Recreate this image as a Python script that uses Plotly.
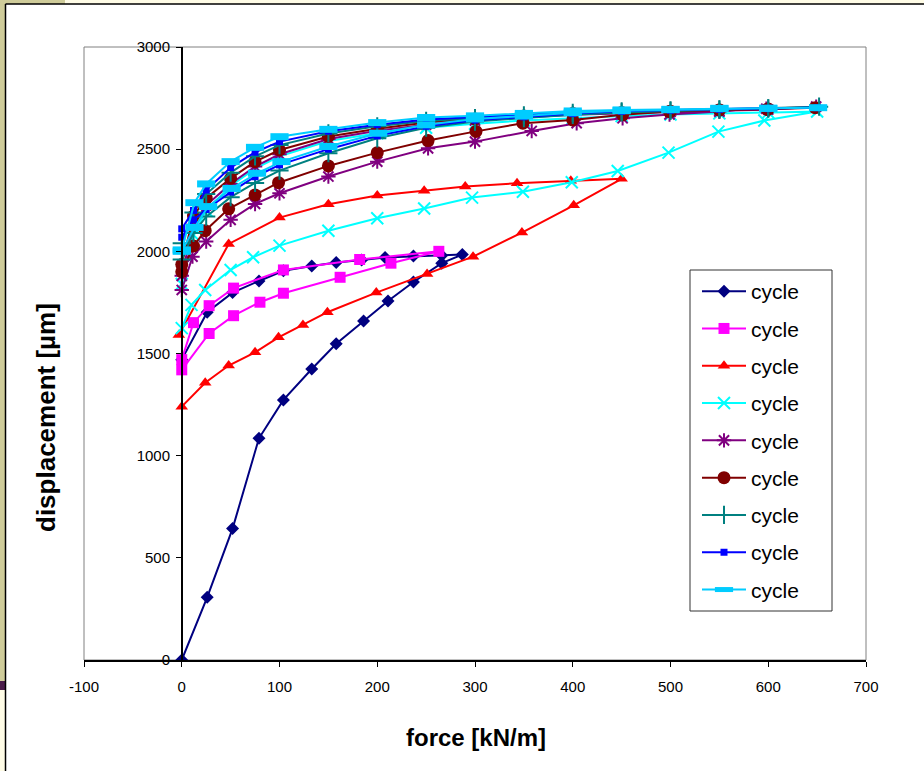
import plotly.graph_objects as go

# ---------------- data ----------------
c1_x = [0, 26, 52, 79, 104, 133, 158, 186, 211, 237, 266, 287, 266, 237, 208, 184, 158, 133, 104, 79, 52, 26, 0]
c1_y = [0, 307, 643, 1085, 1273, 1424, 1548, 1659, 1757, 1850, 1942, 1984, 1980, 1977, 1970, 1958, 1945, 1928, 1905, 1855, 1798, 1702, 1470]

c2_x = [0, 28, 53, 80, 104, 162, 214, 263, 182, 104, 53, 28, 12, 0]
c2_y = [1420, 1598, 1685, 1751, 1795, 1873, 1942, 2000, 1960, 1909, 1820, 1734, 1651, 1470]

c3_x = [0, 24, 48, 75, 99, 124, 149, 199, 251, 298, 348, 401, 450, 398, 343, 290, 248, 200, 150, 100, 48, -3]
c3_y = [1240, 1357, 1441, 1506, 1579, 1640, 1702, 1798, 1889, 1974, 2092, 2225, 2355, 2345, 2333, 2317, 2296, 2273, 2230, 2165, 2036, 1590]

c4_x = [0, 10, 24, 50, 73, 100, 150, 200, 248, 297, 349, 399, 446, 498, 549, 596, 650,
        600, 550, 500, 450, 400, 350, 300, 250, 200, 150, 100, 75, 50, 25, 12, 0]
c4_y = [1624, 1738, 1811, 1909, 1971, 2028, 2101, 2162, 2210, 2263, 2292, 2338, 2393, 2483, 2586, 2640, 2684,
        2680, 2675, 2670, 2662, 2652, 2640, 2625, 2605, 2578, 2540, 2465, 2405, 2320, 2200, 2080, 1840]

c5_x = [0, 11, 25, 50, 75, 100, 150, 200, 252, 300, 358, 404, 451, 499, 550, 598, 649,
        600, 550, 500, 450, 400, 350, 300, 250, 200, 150, 100, 75, 50, 25, 12, 0]
c5_y = [1811, 1974, 2048, 2154, 2232, 2284, 2366, 2439, 2504, 2537, 2589, 2627, 2651, 2670, 2684, 2698, 2708,
        2694, 2688, 2682, 2675, 2668, 2655, 2640, 2620, 2590, 2550, 2475, 2415, 2330, 2225, 2130, 1880]

c6_x = [0, 12, 24, 48, 75, 99, 150, 200, 252, 301, 349, 400, 451, 499, 550, 599, 648,
        600, 550, 500, 450, 400, 350, 300, 250, 200, 150, 100, 75, 50, 25, 12, 0]
c6_y = [1900, 2026, 2101, 2208, 2276, 2336, 2418, 2483, 2542, 2587, 2627, 2643, 2668, 2684, 2692, 2695, 2703,
        2696, 2692, 2686, 2680, 2675, 2662, 2648, 2630, 2600, 2562, 2496, 2439, 2357, 2260, 2173, 1935]

c7_x = [0, 12, 25, 50, 75, 100, 150, 200, 250, 300, 350, 400, 450, 500, 550, 600, 652,
        600, 550, 500, 450, 400, 350, 300, 250, 200, 150, 100, 75, 50, 25, 12, 0]
c7_y = [1960, 2090, 2170, 2265, 2335, 2395, 2480, 2553, 2605, 2635, 2652, 2668, 2680, 2688, 2694, 2700, 2708,
        2700, 2695, 2690, 2685, 2678, 2666, 2652, 2638, 2612, 2577, 2520, 2465, 2385, 2280, 2190, 2040]

c8_x = [0, 12, 25, 50, 75, 100, 150, 200, 250, 300, 350, 400, 450, 500, 550, 600, 650,
        600, 550, 500, 450, 400, 350, 300, 250, 200, 150, 100, 75, 50, 25, 12, 0]
c8_y = [2069, 2154, 2205, 2290, 2365, 2423, 2500, 2565, 2612, 2642, 2658, 2674, 2685, 2692, 2697, 2700, 2703,
        2698, 2696, 2692, 2688, 2682, 2670, 2657, 2645, 2620, 2588, 2537, 2485, 2410, 2300, 2200, 2110]

c9_x = [0, 13, 27, 51, 77, 102, 150, 201, 250, 300, 350, 400, 450, 500, 550, 600, 651,
        600, 550, 500, 450, 400, 350, 300, 250, 200, 150, 100, 75, 50, 25, 13, 0]
c9_y = [2000, 2117, 2219, 2308, 2382, 2439, 2513, 2578, 2619, 2648, 2662, 2678, 2688, 2693, 2698, 2700, 2703,
        2700, 2700, 2695, 2692, 2687, 2675, 2663, 2655, 2630, 2597, 2561, 2509, 2439, 2330, 2238, 2007]

series_names = ["cycle"] * 9
x_ticks = [-100, 0, 100, 200, 300, 400, 500, 600, 700]
x_tick_labels = ["-100", "0", "100", "200", "300", "400", "500", "600", "700"]
y_ticks = [0, 500, 1000, 1500, 2000, 2500, 3000]
y_tick_labels = ["0", "500", "1000", "1500", "2000", "2500", "3000"]

# ---------------- styling ----------------
W, H = 924, 771
ML, MR, MT, MB = 84, 58, 47, 111
PW, PH = W - ML - MR, H - MT - MB
FONT = "Arial, Liberation Sans, sans-serif"


def px2x(px):
    return (px - ML) / PW


def py2y(py):
    return (H - MB - py) / PH


styles = [
    dict(color="#000080", symbol="diamond", size=10, lw=0),
    dict(color="#FF00FF", symbol="square", size=11, lw=0),
    dict(color="#FF0000", symbol="triangle-up", size=11, lw=0),
    dict(color="#00FFFF", symbol="x-thin-open", size=12, lw=2),
    dict(color="#800080", symbol="asterisk-open", size=12, lw=2),
    dict(color="#800000", symbol="circle", size=13, lw=0),
    dict(color="#008080", symbol="cross-thin-open", size=13, lw=2),
    dict(color="#0000FF", symbol="square", size=7, lw=0),
    dict(color="#00CCFF", symbol="line-ew-open", size=13, lw=7),
]

data_x = [c1_x, c2_x, c3_x, c4_x, c5_x, c6_x, c7_x, c8_x, c9_x]
data_y = [c1_y, c2_y, c3_y, c4_y, c5_y, c6_y, c7_y, c8_y, c9_y]

fig = go.Figure()
for i, (xs, ys, st) in enumerate(zip(data_x, data_y, styles)):
    fig.add_trace(go.Scatter(
        x=xs, y=ys, mode="lines+markers", name=series_names[i],
        legendgroup=f"g{i}",
        line=dict(color=st["color"], width=2),
        marker=dict(color=st["color"], symbol=st["symbol"], size=st["size"],
                    line=dict(color=st["color"], width=st["lw"])),
    ))

ypos = (0 - x_ticks[0]) / (x_ticks[-1] - x_ticks[0])

axis_font = dict(family=FONT, size=15, color="black")

fig.update_layout(
    width=W, height=H,
    margin=dict(l=ML, r=MR, t=MT, b=MB),
    paper_bgcolor="white", plot_bgcolor="white",
    showlegend=True,
    xaxis=dict(range=[x_ticks[0], x_ticks[-1]], tickvals=x_ticks, ticktext=x_tick_labels,
               ticks="outside", ticklen=5,
               tickcolor="black", showline=True, linecolor="black", linewidth=1.5,
               showgrid=False, zeroline=False, tickfont=axis_font, ticklabelstandoff=7,
               anchor="y"),
    yaxis=dict(range=[y_ticks[0], y_ticks[-1]], tickvals=y_ticks, ticktext=y_tick_labels,
               ticks="outside", ticklen=5,
               tickcolor="black", showline=True, linecolor="black", linewidth=1.5,
               showgrid=False, zeroline=False, tickfont=axis_font, anchor="free",
               position=ypos, ticklabelstandoff=3),
    xaxis2=dict(range=[x_ticks[0], x_ticks[-1]], tickvals=x_ticks, ticks="inside", ticklen=5,
                tickcolor="black", showticklabels=False, showline=False, showgrid=False,
                zeroline=False, overlaying="x", anchor="y"),
    yaxis2=dict(range=[y_ticks[0], y_ticks[-1]], tickvals=y_ticks, ticks="inside", ticklen=5,
                tickcolor="black", showticklabels=False, showline=False, showgrid=False,
                zeroline=False, overlaying="y", anchor="free", position=ypos),
    legend=dict(x=px2x(697), y=py2y(271), xanchor="left", yanchor="top",
                bgcolor="rgba(0,0,0,0)", borderwidth=0,
                font=dict(family=FONT, size=21, color="black"),
                traceorder="grouped", tracegroupgap=7, itemwidth=44),
)

# slide background decorations, plot frame and legend frame
shapes = [
    dict(type="rect", xref="paper", yref="paper", x0=px2x(0), x1=px2x(5.5), y0=py2y(0), y1=py2y(681),
         fillcolor="#CFCC9A", line=dict(width=0), layer="below"),
    dict(type="rect", xref="paper", yref="paper", x0=px2x(0), x1=px2x(65), y0=py2y(0), y1=py2y(4),
         fillcolor="#CFCC9A", line=dict(width=0), layer="below"),
    dict(type="rect", xref="paper", yref="paper", x0=px2x(65), x1=px2x(924), y0=py2y(0), y1=py2y(4),
         fillcolor="#FFFCE6", line=dict(width=0), layer="below"),
    dict(type="rect", xref="paper", yref="paper", x0=px2x(0), x1=px2x(5.5), y0=py2y(681), y1=py2y(690),
         fillcolor="#4A1C4A", line=dict(width=0), layer="below"),
    dict(type="rect", xref="paper", yref="paper", x0=px2x(0), x1=px2x(5.5), y0=py2y(690), y1=py2y(771),
         fillcolor="#FFFCE6", line=dict(width=0), layer="below"),
    dict(type="line", xref="paper", yref="paper", x0=px2x(5.5), x1=px2x(5.5), y0=py2y(4), y1=py2y(771),
         line=dict(color="black", width=1.5), layer="below"),
    dict(type="line", xref="paper", yref="paper", x0=px2x(5.5), x1=px2x(924), y0=py2y(4), y1=py2y(4),
         line=dict(color="black", width=1.5), layer="below"),
    dict(type="rect", xref="paper", yref="paper", x0=0, x1=1, y0=0, y1=1,
         line=dict(color="#808080", width=1), layer="below"),
    dict(type="rect", xref="paper", yref="paper", x0=px2x(690), x1=px2x(832), y0=py2y(270), y1=py2y(611),
         fillcolor="white", line=dict(color="#333333", width=1), layer="above"),
]
fig.update_layout(shapes=shapes)

fig.add_annotation(text="<b>force [kN/m]</b>", xref="paper", yref="paper",
                   x=px2x(476), y=py2y(737), showarrow=False, xanchor="center", yanchor="middle",
                   font=dict(family=FONT, size=24, color="black"))
fig.add_annotation(text="<b>displacement [µm]</b>", xref="paper", yref="paper",
                   x=px2x(46), y=py2y(418), showarrow=False, xanchor="center", yanchor="middle",
                   textangle=-90, font=dict(family=FONT, size=26, color="black"))

# remove the browser's default page margin so the figure sits at the window's corner
fig.write_html("out.html", config={"displayModeBar": False},
               post_script="document.body.style.margin='0';")
